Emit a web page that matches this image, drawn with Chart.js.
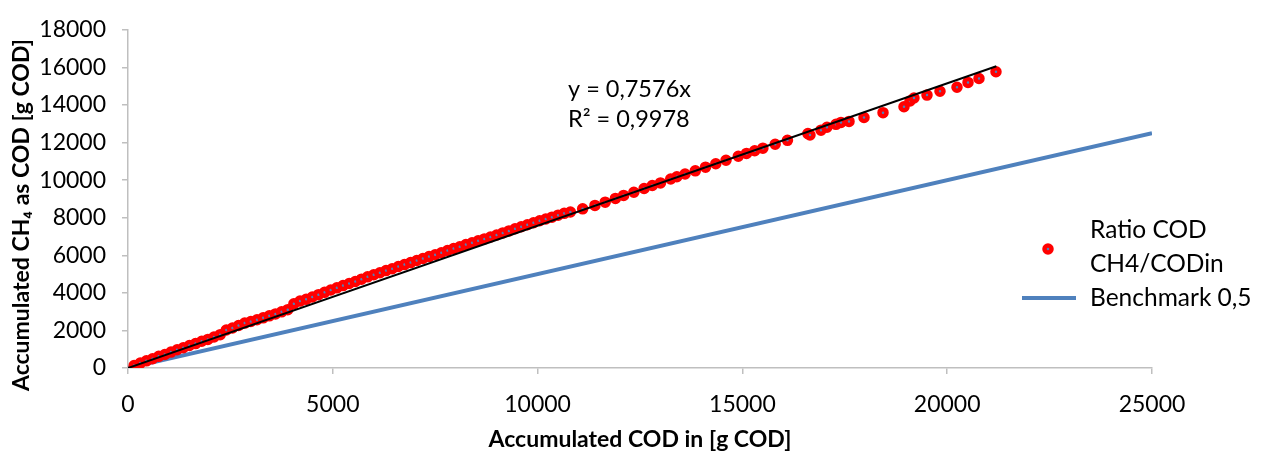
<!DOCTYPE html>
<html>
<head>
<meta charset="utf-8">
<script src="https://cdn.jsdelivr.net/npm/chart.js@4"></script>
<style>
  html, body { margin: 0; padding: 0; background: #fff; }
  #wrap { position: relative; width: 1268px; height: 457px; }
</style>
</head>
<body>
<div id="wrap"><canvas id="scatterPlot" width="1268" height="457"></canvas></div>
<script>
// measured points: accumulated COD in vs accumulated CH4 as COD
const codIn = [
    150, 300, 450, 600, 750, 900, 1050, 1200, 1350, 1500, 1650, 1800, 1950, 2100, 2250,
    2400, 2550, 2700, 2850, 3000, 3150, 3300, 3450, 3600, 3750, 3900,
    4050, 4200, 4350, 4500, 4650, 4800, 4950, 5100, 5250, 5400, 5550, 5700, 5850, 6000,
    6150, 6300, 6450, 6600, 6750, 6900, 7050, 7200, 7350, 7500, 7650, 7800, 7950, 8100,
    8250, 8400, 8550, 8700, 8850, 9000, 9150, 9300, 9450, 9600, 9750, 9900, 10050, 10200,
    10350, 10500, 10650, 10800,
    11100, 11400, 11650, 11900, 12100, 12350, 12600, 12800, 13000, 13250, 13400, 13600,
    13850, 14100, 14350, 14600, 14900, 15100, 15300, 15500, 15800, 16100, 16600,
    16650, 16919, 17065, 17285, 17407, 17603, 17969, 18433, 18945, 19092, 19189, 19507,
    19824, 20239, 20508, 20776, 21191
];
const ch4Cod = [
    130, 260, 380, 495, 620, 720, 845, 970, 1075, 1195, 1300, 1425, 1520, 1650, 1775,
    2020, 2130, 2265, 2390, 2475, 2565, 2670, 2775, 2880, 2990, 3105,
    3420, 3560, 3655, 3780, 3905, 4025, 4150, 4265, 4385, 4500, 4605, 4730, 4850, 4965,
    5070, 5185, 5285, 5400, 5505, 5610, 5720, 5825, 5930, 6030, 6135, 6250, 6355, 6455,
    6570, 6665, 6770, 6870, 6975, 7080, 7190, 7295, 7410, 7515, 7625, 7730, 7835, 7930,
    8030, 8135, 8230, 8300,
    8470, 8655, 8825, 9025, 9185, 9355, 9555, 9715, 9850, 10060, 10180, 10325,
    10495, 10690, 10870, 11060, 11270, 11420, 11560, 11700, 11910, 12115, 12475,
    12400, 12657, 12813, 12968, 13072, 13124, 13331, 13591, 13902, 14213, 14369, 14525,
    14732, 14940, 15199, 15406, 15769
];

// linear trendline through origin (Excel): y = 0,7576x
const trendX = [0, 21200];
const trendY = [0, 16061];

// benchmark ratio 0,5
const benchX = [0, 25000];
const benchY = [0, 12500];

const xTicks = [0, 5000, 10000, 15000, 20000, 25000];
const yTicks = [0, 2000, 4000, 6000, 8000, 10000, 12000, 14000, 16000, 18000];

const FONT = 'Lato, "Open Sans", sans-serif';
const RED = '#FF0000';
const BLUE = '#4F81BD';
const AXIS = '#BFBFBF';

const zip = (xs, ys) => xs.map((x, i) => ({ x: x, y: ys[i] }));

// titles, trendline label and legend drawn on top
const extras = {
    id: 'extras',
    afterDraw(chart) {
        const ctx = chart.ctx;
        const area = chart.chartArea;
        ctx.save();
        ctx.fillStyle = '#000';
        ctx.textBaseline = 'middle';

        // axis titles
        ctx.font = 'bold 23px ' + FONT;
        ctx.textAlign = 'center';
        ctx.fillText('Accumulated COD in [g COD]', (area.left + area.right) / 2, 440);
        ctx.save();
        ctx.translate(22, 215);
        ctx.rotate(-Math.PI / 2);
        ctx.fillText('Accumulated CH\u2084 as COD [g COD]', 0, 0);
        ctx.restore();

        // trendline equation
        ctx.font = '23.5px ' + FONT;
        ctx.textAlign = 'left';
        ctx.fillText('y = 0,7576x', 568, 89);
        ctx.fillText('R\u00b2 = 0,9978', 568, 119);

        // legend
        ctx.font = '24.5px ' + FONT;
        ctx.fillText('Ratio COD', 1090, 230);
        ctx.fillText('CH4/CODin', 1090, 264);
        ctx.fillText('Benchmark 0,5', 1090, 298);

        ctx.beginPath();
        ctx.arc(1048, 249, 3.5, 0, Math.PI * 2);
        ctx.fillStyle = BLUE;
        ctx.fill();
        ctx.lineWidth = 4.5;
        ctx.strokeStyle = RED;
        ctx.stroke();

        ctx.beginPath();
        ctx.moveTo(1022, 298);
        ctx.lineTo(1076, 298);
        ctx.lineWidth = 4;
        ctx.strokeStyle = BLUE;
        ctx.stroke();
        ctx.restore();
    }
};

const ctx = document.getElementById('scatterPlot').getContext('2d');
new Chart(ctx, {
    type: 'scatter',
    data: {
        datasets: [{
            label: 'Linear trend',
            type: 'line',
            data: zip(trendX, trendY),
            borderColor: '#000',
            borderWidth: 2,
            pointRadius: 0,
            order: 0
        }, {
            label: 'Ratio COD CH4/CODin',
            data: zip(codIn, ch4Cod),
            backgroundColor: BLUE,
            borderColor: RED,
            borderWidth: 4.5,
            pointRadius: 3.5,
            order: 1
        }, {
            label: 'Benchmark 0,5',
            type: 'line',
            data: zip(benchX, benchY),
            borderColor: BLUE,
            borderWidth: 4,
            pointRadius: 0,
            order: 2
        }]
    },
    options: {
        responsive: false,
        animation: false,
        layout: { padding: { top: 21, right: 116, left: 0, bottom: 0 } },
        plugins: {
            legend: { display: false },
            tooltip: { enabled: false }
        },
        scales: {
            x: {
                type: 'linear',
                min: 0,
                max: 25000,
                afterBuildTicks: scale => { scale.ticks = xTicks.map(v => ({ value: v })); },
                afterFit: scale => { scale.height = 89; },
                grid: { drawOnChartArea: false, drawTicks: true, tickLength: 6, color: AXIS, lineWidth: 1.5 },
                border: { display: true, color: AXIS, width: 1.5 },
                ticks: {
                    color: '#000', font: { family: FONT, size: 23 }, padding: 17, maxRotation: 0,
                    callback: v => String(v)
                }
            },
            y: {
                type: 'linear',
                min: 0,
                max: 18000,
                afterBuildTicks: scale => { scale.ticks = yTicks.map(v => ({ value: v })); },
                afterFit: scale => { scale.width = 128; },
                grid: { drawOnChartArea: false, drawTicks: true, tickLength: 6, color: AXIS, lineWidth: 1.5 },
                border: { display: true, color: AXIS, width: 1.5 },
                ticks: {
                    color: '#000', font: { family: FONT, size: 23 }, padding: 16,
                    callback: v => String(v)
                }
            }
        }
    },
    plugins: [extras]
});
</script>
</body>
</html>
